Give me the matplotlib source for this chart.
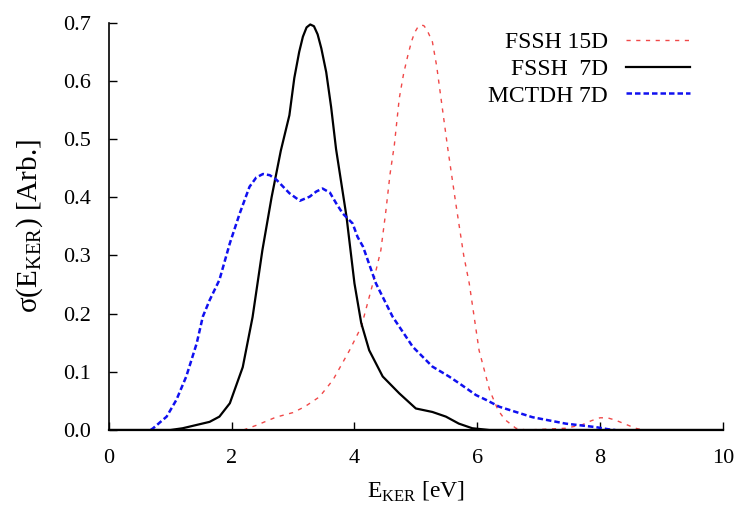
import matplotlib
matplotlib.use('Agg')
import matplotlib.pyplot as plt

plt.rcParams['font.family'] = ['Liberation Serif', 'DejaVu Serif']
plt.rcParams['mathtext.fontset'] = 'custom'
plt.rcParams['mathtext.rm'] = 'Liberation Serif'
plt.rcParams['font.size'] = 16

# FSSH 15D (red dotted)
fssh15_x = [2.19, 2.4, 2.72, 3.0, 3.19, 3.43, 3.65, 3.92, 4.11, 4.30, 4.43, 4.51,
            4.58, 4.65, 4.73, 4.80, 4.87, 4.93, 4.98, 5.03, 5.08, 5.13, 5.18, 5.27, 5.34,
            5.41, 5.52, 5.65, 5.78, 5.87, 6.03, 6.2, 6.34, 6.45, 6.63, 6.8, 7.44, 7.71,
            7.86, 8.0, 8.12, 8.25, 8.58, 8.7, 10]
fssh15_y = [0, 0.008, 0.022, 0.030, 0.040, 0.057, 0.086, 0.137, 0.177, 0.252, 0.309, 0.375,
            0.44, 0.49, 0.57, 0.612, 0.644, 0.668, 0.683, 0.692, 0.696, 0.695, 0.688, 0.667, 0.625,
            0.57, 0.484, 0.39, 0.30, 0.252, 0.137, 0.069, 0.034, 0.018, 0.003, 0, 0.003, 0.009,
            0.016, 0.021, 0.021, 0.017, 0.003, 0, 0]

# FSSH 7D (black solid)
fssh7_x = [0, 1.0, 1.2, 1.4, 1.64, 1.8, 1.97, 2.18, 2.34, 2.5, 2.65, 2.8, 2.94, 3.02, 3.1,
           3.16, 3.22, 3.28, 3.34, 3.40, 3.46, 3.54, 3.62, 3.70, 3.87, 4.0, 4.11, 4.24,
           4.46, 4.73, 5.0, 5.27, 5.49, 5.7, 5.92, 6.2, 10]
fssh7_y = [0, 0, 0.003, 0.008, 0.014, 0.023, 0.046, 0.108, 0.194, 0.309, 0.40, 0.48, 0.541,
           0.605, 0.650, 0.676, 0.692, 0.697, 0.694, 0.680, 0.656, 0.615, 0.555, 0.483, 0.367,
           0.252, 0.184, 0.137, 0.092, 0.063, 0.037, 0.031, 0.023, 0.011, 0.003, 0, 0]

# MCTDH 7D (blue dashed)
mctdh_x = [0.68, 0.72, 0.94, 1.10, 1.26, 1.43, 1.53, 1.64, 1.80, 1.97, 2.13, 2.29, 2.40,
           2.51, 2.62, 2.73, 2.94, 3.11, 3.27, 3.38, 3.48, 3.60, 3.70, 3.81, 3.97, 4.05,
           4.14, 4.35, 4.62, 4.95, 5.27, 5.54, 5.71, 5.98, 6.14, 6.36, 6.90, 7.44, 7.93,
           8.15, 8.25]
mctdh_y = [0, 0.003, 0.023, 0.052, 0.092, 0.149, 0.195, 0.223, 0.258, 0.321, 0.372, 0.418,
           0.434, 0.440, 0.438, 0.430, 0.407, 0.394, 0.401, 0.410, 0.415, 0.408, 0.39, 0.372,
           0.355, 0.332, 0.315, 0.252, 0.195, 0.143, 0.109, 0.092, 0.080, 0.060, 0.052,
           0.040, 0.022, 0.011, 0.005, 0.001, 0]

xticks = [0, 2, 4, 6, 8, 10]
yticks = [0.0, 0.1, 0.2, 0.3, 0.4, 0.5, 0.6, 0.7]

fig = plt.figure(figsize=(7.36, 5.05), dpi=100)
ax = fig.add_axes([0.148, 0.1485, 0.834, 0.8065])

ax.plot(fssh15_x, fssh15_y, color='#f04848', lw=1.0, ls=(0, (3, 4)), label='FSSH 15D')
ax.plot(fssh7_x, fssh7_y, color='black', lw=1.6, label='FSSH  7D')
ax.plot(mctdh_x, mctdh_y, color='#1010f0', lw=1.8, ls=(0, (2.2, 1.2)), label='MCTDH 7D')

ax.set_xlim(0, 10)
ax.set_ylim(0, 0.7)
ax.set_xticks(xticks)
ax.set_yticks(yticks)
ax.set_yticklabels([f'{v:.1f}' for v in yticks])
ax.spines['top'].set_visible(False)
ax.spines['right'].set_visible(False)
ax.spines['left'].set_linewidth(1.2)
ax.spines['bottom'].set_linewidth(1.6)
ax.tick_params(direction='in', length=6, width=1)
ax.tick_params(axis='x', pad=14, labelsize=16)
ax.tick_params(axis='y', pad=13, labelsize=16)

ax.set_xlabel(r'E$_\mathrm{KER}$ [eV]', fontsize=17, labelpad=8)
ax.set_ylabel(r'σ(E$_\mathrm{KER}$) [Arb.]', fontsize=21, labelpad=13)

ax.legend(loc='upper right', frameon=False, markerfirst=False, handlelength=2.75,
          handletextpad=0.75, labelspacing=0.22, fontsize=17,
          bbox_to_anchor=(0.982, 1.03))

fig.savefig('out.png', dpi=100)
